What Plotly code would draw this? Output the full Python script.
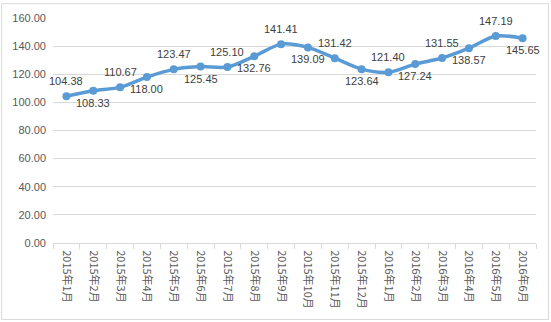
import plotly.graph_objects as go

months = ["2015年1月", "2015年2月", "2015年3月", "2015年4月", "2015年5月", "2015年6月",
          "2015年7月", "2015年8月", "2015年9月", "2015年10月", "2015年11月", "2015年12月",
          "2016年1月", "2016年2月", "2016年3月", "2016年4月", "2016年5月", "2016年6月"]
values = [104.38, 108.33, 110.67, 118.00, 123.47, 125.45, 125.10, 132.76, 141.41,
          139.09, 131.42, 123.64, 121.40, 127.24, 131.55, 138.57, 147.19, 145.65]
y_ticks = [0, 20, 40, 60, 80, 100, 120, 140, 160]

W, H = 551, 322
ML, MR, MT, MB = 52, 15, 15, 79
pw, ph = W - ML - MR, H - MT - MB

fig = go.Figure()
fig.add_trace(go.Scatter(
    x=months, y=values, mode="lines+markers",
    line=dict(color="#5B9BD5", width=3.5, shape="spline", smoothing=0.8),
    marker=dict(color="#5B9BD5", size=8),
    cliponaxis=False,
    hoverinfo="skip",
))

for i, (m, v) in enumerate(zip(months, values)):
    above = (i % 2 == 0)
    fig.add_annotation(
        x=m, y=v, xref="x", yref="y", text=f"{v:.2f}", showarrow=False,
        yanchor="middle", xanchor="center",
        yshift=15 if above else -12,
        font=dict(family="Liberation Sans, Arial", size=11, color="#404040"),
    )

fig.update_layout(
    width=W, height=H,
    margin=dict(l=ML, r=MR, t=MT, b=MB),
    paper_bgcolor="white", plot_bgcolor="white",
    showlegend=False,
    xaxis=dict(
        type="category", tickangle=90,
        tickfont=dict(family="Noto Sans CJK SC", size=11, color="#595959"),
        showgrid=False, showline=True, linecolor="#d9d9d9", linewidth=1,
        ticks="outside", tickson="boundaries", ticklen=5, tickcolor="#d9d9d9",
        ticklabelstandoff=4,
        range=[-0.5, len(months) - 0.5],
    ),
    yaxis=dict(
        range=[0, 160], tickvals=y_ticks, tickformat=".2f",
        tickfont=dict(family="Liberation Sans, Arial", size=11, color="#595959"),
        showgrid=True, gridcolor="#d9d9d9", gridwidth=1,
        zeroline=False, showline=False, ticks="",
        ticklabelstandoff=6,
    ),
    shapes=[dict(
        type="rect", xref="paper", yref="paper",
        x0=(0.5 - ML) / pw, x1=(548.5 - ML) / pw,
        y0=(MT + ph - 320.5) / ph, y1=(MT + ph - 0.5) / ph,
        line=dict(color="#d9d9d9", width=1), layer="below",
    )],
)

fig.write_html("out.html")
